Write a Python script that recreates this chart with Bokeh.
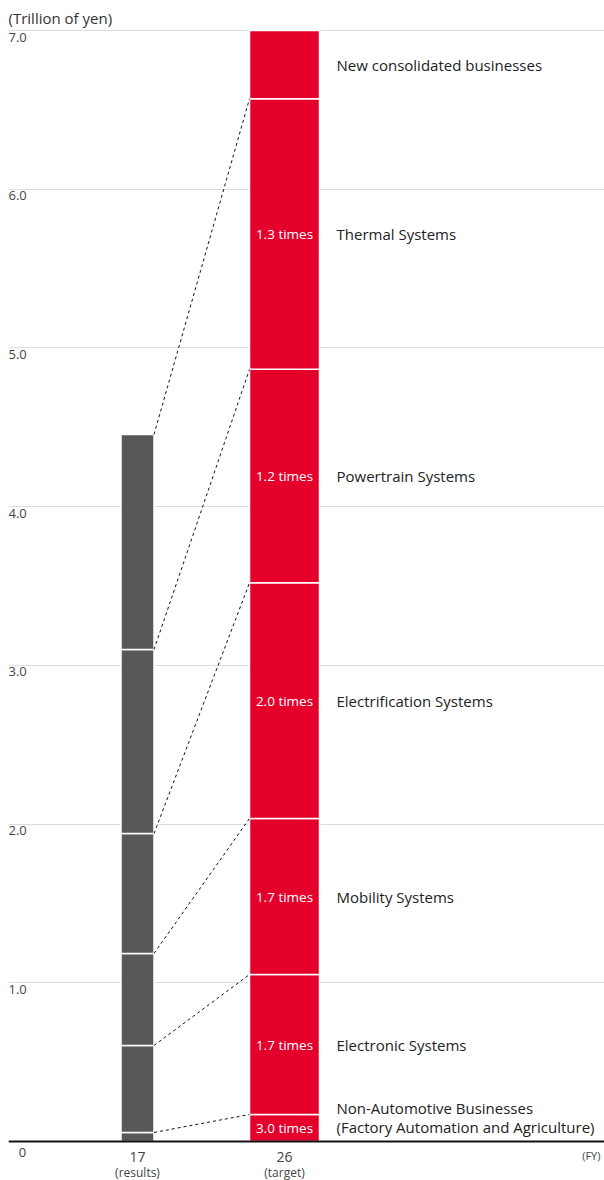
from bokeh.plotting import figure
from bokeh.models import ColumnDataSource, Range1d, FixedTicker, Span
from bokeh.core.properties import value
from bokeh.embed import file_html
from bokeh.resources import INLINE

# ---- data ----
categories = ["Non-Automotive Businesses", "Electronic Systems", "Mobility Systems",
              "Electrification Systems", "Powertrain Systems", "Thermal Systems",
              "New consolidated businesses"]
fy17_values = [0.057, 0.548, 0.58, 0.755, 1.16, 1.355, 0.0]
fy26_values = [0.17, 0.882, 0.983, 1.485, 1.345, 1.705, 0.43]
ratio_labels = ["3.0 times", "1.7 times", "1.7 times", "2.0 times", "1.2 times", "1.3 times", ""]
y_ticks = [1, 2, 3, 4, 5, 6, 7]
y_tick_labels = ["1.0", "2.0", "3.0", "4.0", "5.0", "6.0", "7.0"]
fy_labels = ["17", "26"]
fy_sub_labels = ["(results)", "(target)"]

FONT = value("Open Sans")
GRAY = "#595757"
RED = "#E4002B"

# layout (x in screen-like frame units)
X17, W17 = 137, 33
X26, W26 = 284, 70
XLABEL = 336

def stack(vals):
    bottoms, tops = [], []
    acc = 0.0
    for v in vals:
        bottoms.append(acc)
        acc += v
        tops.append(acc)
    return bottoms, tops

b17, t17 = stack(fy17_values)
b26, t26 = stack(fy26_values)

W, H = 604, 1180
px_per_unit = (1141 - 30) / 7.0
y_top = 7 + 30 / px_per_unit
y_bot = -(H - 1141) / px_per_unit

p = figure(width=W, height=H, output_backend="svg", toolbar_location=None,
           x_range=Range1d(8, W), y_range=Range1d(y_bot, y_top),
           min_border=0, min_border_left=8, min_border_right=0,
           min_border_top=0, min_border_bottom=0)
p.outline_line_color = None
p.background_fill_color = "white"
p.border_fill_color = "white"
p.xaxis.visible = False
p.yaxis.visible = False
p.xgrid.visible = False
p.ygrid.ticker = FixedTicker(ticks=y_ticks)
p.ygrid.grid_line_color = "#dddddd"
p.ygrid.grid_line_width = 1

# bars
n17 = [i for i, v in enumerate(fy17_values) if v > 0]
src17 = ColumnDataSource(dict(x=[X17] * len(n17), bottom=[b17[i] for i in n17], top=[t17[i] for i in n17]))
p.vbar(x="x", width=W17, bottom="bottom", top="top", source=src17,
       fill_color=GRAY, line_color="white", line_width=1.5)
src26 = ColumnDataSource(dict(x=[X26] * len(fy26_values), bottom=b26, top=t26))
p.vbar(x="x", width=W26, bottom="bottom", top="top", source=src26,
       fill_color=RED, line_color="white", line_width=1.5)

# dashed connectors
m = len(n17)
p.segment(x0=[X17 + W17 / 2] * m, y0=[t17[i] for i in n17],
          x1=[X26 - W26 / 2] * m, y1=[t26[i] for i in n17],
          line_color="#111111", line_width=1, line_dash="3 3")

# baseline
p.add_layout(Span(location=0, dimension="width", line_color="#111111", line_width=2))

# y tick labels
p.text(x=[8] * len(y_ticks), y=y_ticks, text=y_tick_labels, text_font=FONT,
       text_font_size="13px", text_color="#444444", text_align="left",
       text_baseline="top", y_offset=2)
p.text(x=[8], y=[y_top], text=["(Trillion of yen)"], text_font=FONT,
       text_font_size="15px", text_color="#333333", text_align="left",
       text_baseline="middle", y_offset=17)
p.text(x=[22], y=[0], text=["0"], text_font=FONT, text_font_size="13px",
       text_color="#444444", text_align="center", text_baseline="middle", y_offset=11)

# x labels
p.text(x=[X17, X26], y=[0, 0], text=fy_labels, text_font=FONT, text_font_size="14px",
       text_color="#444444", text_align="center", text_baseline="middle", y_offset=15)
p.text(x=[X17, X26], y=[0, 0], text=fy_sub_labels, text_font=FONT, text_font_size="12px",
       text_color="#444444", text_align="center", text_baseline="middle", y_offset=31)
p.text(x=[600], y=[0], text=["(FY)"], text_font=FONT, text_font_size="11px",
       text_color="#444444", text_align="right", text_baseline="middle", y_offset=14)

# ratio labels inside red bar
mids26 = [(b + t) / 2 for b, t in zip(b26, t26)]
p.text(x=[X26] * len(ratio_labels), y=mids26, text=ratio_labels, text_font=FONT,
       text_font_size="13.5px", text_color="white", text_align="center",
       text_baseline="middle")

# category labels
p.text(x=[XLABEL] * (len(categories) - 1), y=mids26[1:], text=categories[1:],
       text_font=FONT, text_font_size="15px", text_color="#222222",
       text_align="left", text_baseline="middle")
p.text(x=[XLABEL, XLABEL], y=[mids26[0], mids26[0]],
       text=[categories[0], "(Factory Automation and Agriculture)"],
       text_font=FONT, text_font_size="15px", text_color="#222222",
       text_align="left", text_baseline="middle", y_offset=[-20, -1])

open("out.html", "w").write(file_html(p, INLINE))
